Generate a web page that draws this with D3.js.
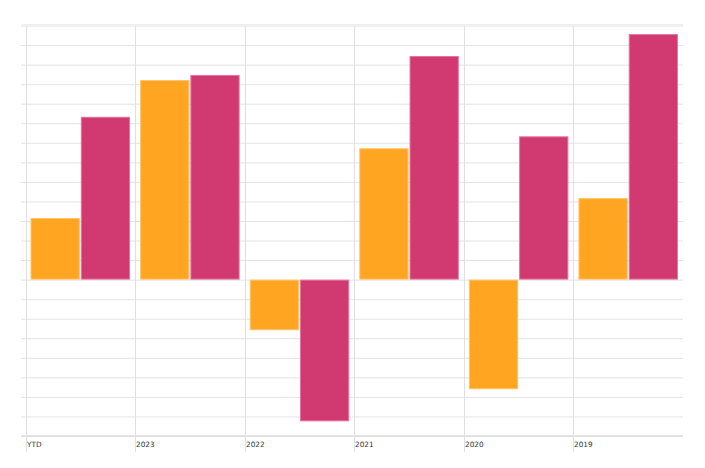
<!DOCTYPE html>
<html>
<head>
<meta charset="utf-8">
<script src="https://cdn.jsdelivr.net/npm/d3@7"></script>
<style>
  html, body { margin: 0; padding: 0; background: #fff; }
  svg { display: block; }
</style>
</head>
<body>
<svg id="chart" width="705" height="468"></svg>
<script>
const categories = ["YTD", "2023", "2022", "2021", "2020", "2019"];
const seriesNames = ["A", "B"];
const seriesA = [3.15, 10.21, -2.59, 6.72, -5.61, 4.17];
const seriesB = [8.33, 10.47, -7.25, 11.44, 7.33, 12.56];
const yTicks = d3.range(-8, 14, 1);
const colors = ["#FFA521", "#D13A71"];
const strokes = ["#FFC46A", "#E5739D"];

(function () {
const svg = d3.select("#chart");
const mLeft = 25.5, mRight = 683, mTop = 25.5, mBottom = 436;

const x = d3.scaleBand().domain(categories).range([mLeft, mRight]).padding(0);
const x1 = d3.scaleBand().domain(seriesNames).range([0, x.bandwidth()])
  .paddingInner(0.02).paddingOuter(0.1);
const y = d3.scaleLinear().domain([-8, 13]).range([mBottom, mTop]);

// horizontal grid
svg.append("g")
  .attr("transform", `translate(${mLeft},0)`)
  .call(d3.axisLeft(y).tickValues(yTicks).tickSize(-(mRight - mLeft)).tickFormat(""))
  .call(g => g.select(".domain").remove())
  .call(g => g.selectAll(".tick line").attr("stroke", "#e3e3e3").attr("x1", -4.5));

// top double line
svg.append("line").attr("x1", mLeft - 4).attr("x2", mRight)
  .attr("y1", y(13) - 1).attr("y2", y(13) - 1).attr("stroke", "#eeeeee");

// vertical grid lines
svg.append("g")
  .selectAll("line")
  .data(categories)
  .join("line")
  .attr("x1", d => Math.round(x(d)) + 0.5)
  .attr("x2", d => Math.round(x(d)) + 0.5)
  .attr("y1", mTop)
  .attr("y2", 452)
  .attr("stroke", "#e0e0e0");

// bars
const data = categories.map((c, i) => ({ c, vals: [seriesA[i], seriesB[i]] }));
const groups = svg.append("g").selectAll("g")
  .data(data).join("g")
  .attr("transform", d => `translate(${x(d.c)},0)`);
groups.selectAll("rect")
  .data(d => d.vals.map((v, k) => ({ v, k })))
  .join("rect")
  .attr("x", d => x1(seriesNames[d.k]) + 0.5)
  .attr("width", x1.bandwidth() - 1)
  .attr("y", d => y(Math.max(0, d.v)) + 0.5)
  .attr("height", d => Math.abs(y(d.v) - y(0)) - 1)
  .attr("fill", d => colors[d.k])
  .attr("stroke", d => strokes[d.k])
  .attr("stroke-width", 1);

// bottom axis line
svg.append("line").attr("x1", mLeft - 4).attr("x2", mRight)
  .attr("y1", mBottom).attr("y2", mBottom).attr("stroke", "#dddddd").attr("stroke-width", 1.3);

// category labels
svg.append("g").selectAll("text")
  .data(categories).join("text")
  .attr("x", d => Math.round(x(d)) + 1)
  .attr("y", 447)
  .attr("font-family", "Verdana, 'DejaVu Sans', sans-serif")
  .attr("font-size", "7.3px")
  .attr("fill", "#333")
  .text(d => d);
})();
</script>
</body>
</html>
